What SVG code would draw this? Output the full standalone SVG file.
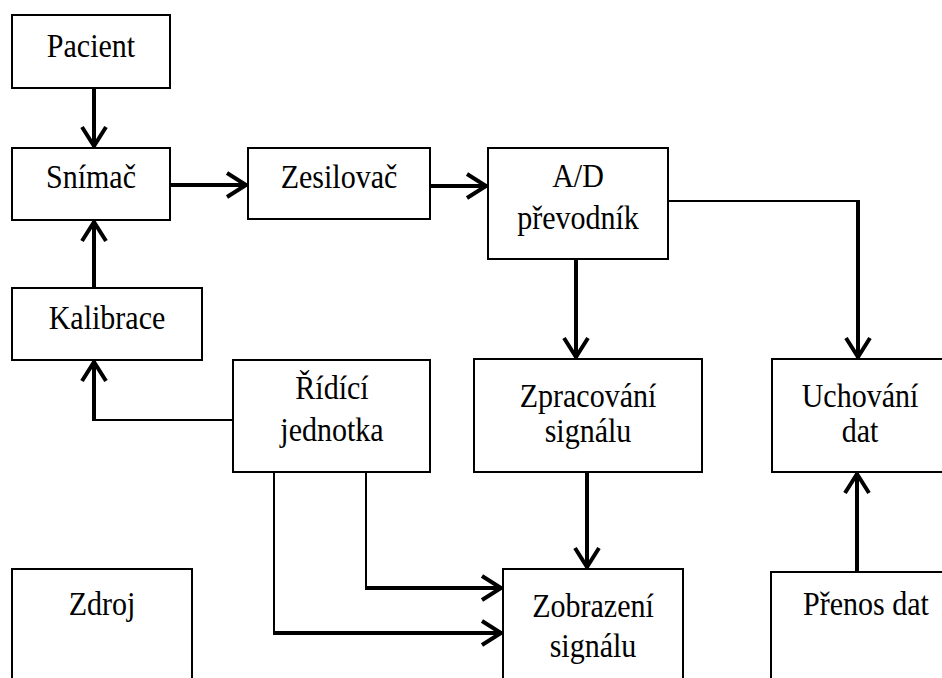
<svg xmlns="http://www.w3.org/2000/svg" width="942" height="678" viewBox="0 0 942 678">
<style>
.box{fill:#fff;stroke:#000;stroke-width:2}
.t{font-family:"Liberation Serif","Times New Roman",serif;font-size:33px;fill:#000;text-anchor:middle}
.thick{fill:none;stroke:#000;stroke-width:4}
.thin{fill:none;stroke:#000;stroke-width:2}
</style>
<defs>
<marker id="ah" markerUnits="userSpaceOnUse" viewBox="-26 -16 30 32" markerWidth="30" markerHeight="32" refX="0" refY="0" orient="auto" overflow="visible">
<path d="M-21,-12 L-2,0 L-21,12" fill="none" stroke="#000" stroke-width="4"/>
</marker>
</defs>
<rect width="942" height="678" fill="#fff"/>
<g id="connectors">
<line class="thick" x1="94" y1="88" x2="94" y2="148" marker-end="url(#ah)"/>
<line class="thick" x1="94" y1="288" x2="94" y2="220" marker-end="url(#ah)"/>
<line class="thick" x1="170" y1="185" x2="248" y2="185" marker-end="url(#ah)"/>
<line class="thick" x1="430" y1="186" x2="488" y2="186" marker-end="url(#ah)"/>
<line class="thick" x1="576" y1="260" x2="576" y2="359" marker-end="url(#ah)"/>
<line class="thin" x1="668" y1="201" x2="859" y2="201"/>
<line class="thick" x1="858" y1="200" x2="858" y2="359" marker-end="url(#ah)"/>
<line class="thin" x1="233" y1="420" x2="93" y2="420"/>
<line class="thick" x1="94" y1="421" x2="94" y2="360" marker-end="url(#ah)"/>
<line class="thin" x1="366" y1="472" x2="366" y2="589"/>
<line class="thick" x1="365" y1="588" x2="503" y2="588" marker-end="url(#ah)"/>
<line class="thin" x1="274" y1="472" x2="274" y2="634"/>
<line class="thick" x1="273" y1="633" x2="503" y2="633" marker-end="url(#ah)"/>
<line class="thick" x1="587" y1="472" x2="587" y2="569" marker-end="url(#ah)"/>
<line class="thick" x1="857" y1="572" x2="857" y2="472" marker-end="url(#ah)"/>
</g>
<g id="pacient"><rect class="box" x="12" y="15" width="158" height="73"/><text class="t" transform="translate(91 57) scale(0.91 1)">Pacient</text></g>
<g id="snimac"><rect class="box" x="12" y="148" width="158" height="72"/><text class="t" transform="translate(91 188) scale(0.91 1)">Snímač</text></g>
<g id="zesilovac"><rect class="box" x="248" y="148" width="182" height="71"/><text class="t" transform="translate(339 188) scale(0.91 1)">Zesilovač</text></g>
<g id="ad"><rect class="box" x="488" y="148" width="180" height="111"/><text class="t" transform="translate(578 187) scale(0.91 1)">A/D</text><text class="t" transform="translate(578 229) scale(0.91 1)">převodník</text></g>
<g id="kalibrace"><rect class="box" x="12" y="288" width="190" height="72"/><text class="t" transform="translate(107 329) scale(0.91 1)">Kalibrace</text></g>
<g id="ridici"><rect class="box" x="233" y="360" width="197" height="112"/><text class="t" transform="translate(332 399) scale(0.91 1)">Řídící</text><text class="t" transform="translate(332 441) scale(0.91 1)">jednotka</text></g>
<g id="zpracovani"><rect class="box" x="474" y="359" width="228" height="113"/><text class="t" transform="translate(588 407) scale(0.91 1)">Zpracování</text><text class="t" transform="translate(588 442) scale(0.91 1)">signálu</text></g>
<g id="uchovani"><rect class="box" x="772" y="359" width="176" height="113"/><text class="t" transform="translate(860 407) scale(0.91 1)">Uchování</text><text class="t" transform="translate(860 442) scale(0.91 1)">dat</text></g>
<g id="zdroj"><rect class="box" x="12" y="569" width="180" height="120"/><text class="t" transform="translate(102 615) scale(0.91 1)">Zdroj</text></g>
<g id="zobrazeni"><rect class="box" x="503" y="569" width="180" height="120"/><text class="t" transform="translate(593 617) scale(0.91 1)">Zobrazení</text><text class="t" transform="translate(593 657) scale(0.91 1)">signálu</text></g>
<g id="prenos"><rect class="box" x="771" y="572" width="190" height="120"/><text class="t" transform="translate(866 615) scale(0.91 1)">Přenos dat</text></g>
</svg>
